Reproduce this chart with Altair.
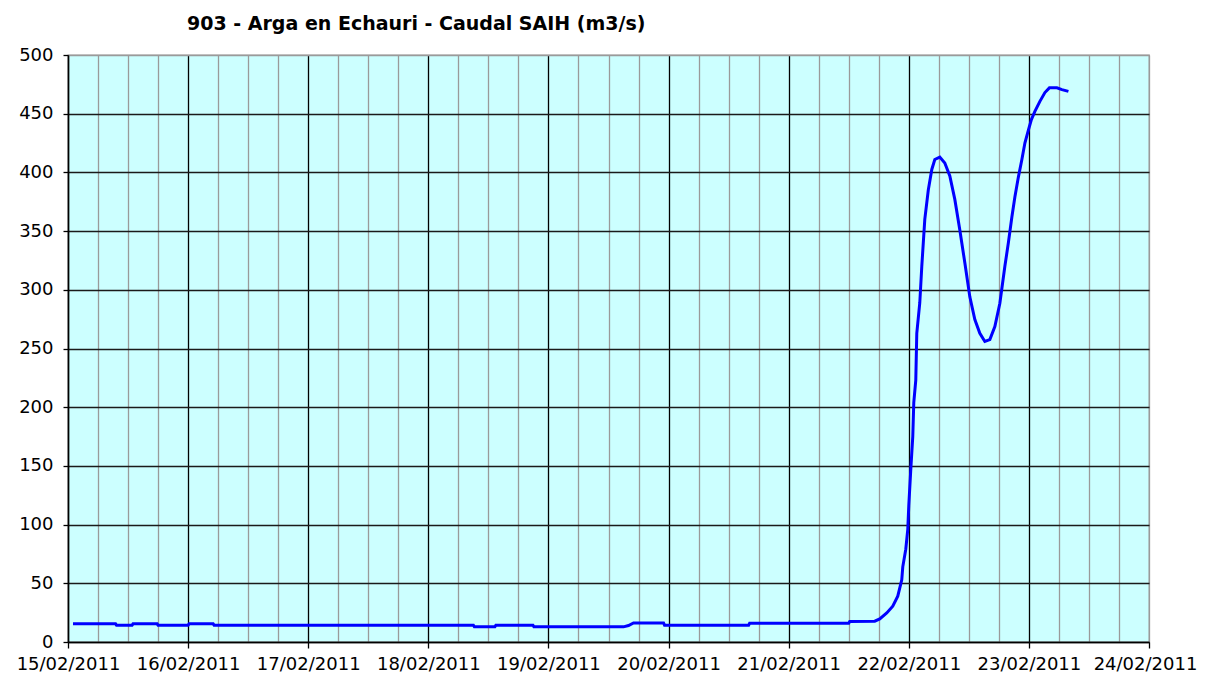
import altair as alt
import pandas as pd

# Hours since 15/02/2011 00:00
hours = [1, 9.5, 9.7, 12.8, 13.0, 17.8, 18.0, 24, 24.2, 29, 29.2, 81, 81.2, 85.3, 85.5,
         92.9, 93.1, 111, 112, 113, 119, 119.2, 136, 136.2, 156, 156.2, 161.2,
         162.2, 163.6, 164.8, 165.8, 166.6, 166.8, 167.4, 167.8, 168.0, 168.4, 168.8,
         169.0, 169.4, 169.6, 170.2, 170.6, 171.2, 171.9, 172.6, 173.2, 174.2, 175.2,
         176.2, 177.2, 178.2, 179.2, 180.2, 181.2, 182.2, 183.2, 184.2, 185.2, 186.2,
         187.2, 187.9, 188.6, 189.2, 189.9, 190.6, 191.2, 191.9, 192.5, 193.2, 194.2,
         195.2, 196.1, 197.6, 198.6, 199.9]
flow = [15.5, 15.5, 14.3, 14.3, 15.5, 15.5, 14.3, 14.3, 15.5, 15.5, 14.3, 14.3, 12.9, 12.9, 14.3,
        14.3, 12.9, 12.9, 14.0, 16.2, 16.2, 14.3, 14.3, 16.0, 16.0, 17.5, 17.7,
        19.7, 24.8, 30.5, 39, 53, 64, 79, 96, 116, 147, 175,
        204, 223, 263, 289, 320, 360, 385, 402.5, 411, 413, 408,
        397, 377, 351, 323, 294, 274.6, 263, 256, 257.6, 268.6, 288.5,
        320, 340, 362, 379, 396, 411, 425, 436, 445, 452, 460.5,
        468, 472, 472, 470.5, 469]

day_labels = ["15/02/2011", "16/02/2011", "17/02/2011", "18/02/2011", "19/02/2011",
              "20/02/2011", "21/02/2011", "22/02/2011", "23/02/2011", "24/02/2011"]
y_ticks = list(range(0, 501, 50))
x_ticks = list(range(0, 217, 6))

df = pd.DataFrame({"h": hours, "q": flow})

labels_js = "[" + ",".join("'" + d + "'" for d in day_labels) + "]"
label_expr = f"datum.value % 24 == 0 ? {labels_js}[datum.value / 24] : ''"

FONT = "DejaVu Sans"

chart = alt.Chart(df).mark_line(color="#0000FF", strokeWidth=3, interpolate="linear").encode(
    x=alt.X("h:Q",
            scale=alt.Scale(domain=[0, 216], nice=False, zero=False),
            axis=alt.Axis(values=x_ticks, title=None, grid=True,
                          gridColor={"condition": {"test": "datum.value % 24 == 0 && datum.value != 216", "value": "#000000"}, "value": "#9a9a9a"},
                          gridWidth=1.3,
                          tickColor={"condition": {"test": "datum.value % 24 == 0", "value": "#000000"}, "value": "transparent"},
                          tickSize=6, tickWidth=1.3,
                          labelExpr=label_expr, labelOverlap=False, labelFlush=False, labelBound=False,
                          labelOffset={"condition": {"test": "datum.value == 216", "value": -4}, "value": 0},
                          labelFont=FONT, labelFontSize=18, labelColor="#000000", labelPadding=7,
                          domainColor="#000000", domainWidth=1.5)),
    y=alt.Y("q:Q",
            scale=alt.Scale(domain=[0, 500], nice=False),
            axis=alt.Axis(values=y_ticks, title=None, grid=True,
                          gridColor={"condition": {"test": "datum.value == 500", "value": "#9a9a9a"}, "value": "#1a1a1a"},
                          gridWidth=1.3,
                          tickColor="#000000", tickSize=5, tickWidth=1.3,
                          labelFont=FONT, labelFontSize=18, labelColor="#000000", labelPadding=10,
                          domainColor="#000000", domainWidth=1.5)),
).properties(
    width=1081,
    height=587,
    title=alt.TitleParams("903 - Arga en Echauri - Caudal SAIH (m3/s)", anchor="start", frame="group", dx=119,
                          font=FONT, fontSize=19, fontWeight="bold", color="#000000", offset=12),
    autosize=alt.AutoSizeParams(type="none"),
    padding={"left": 60, "top": 47, "right": 49, "bottom": 34},
    background="#FFFFFF",
).configure_view(
    fill="#CCFFFF", stroke="#9a9a9a", strokeWidth=1.3
)

chart.save("out.html", embed_options={"renderer": "svg", "actions": False})
